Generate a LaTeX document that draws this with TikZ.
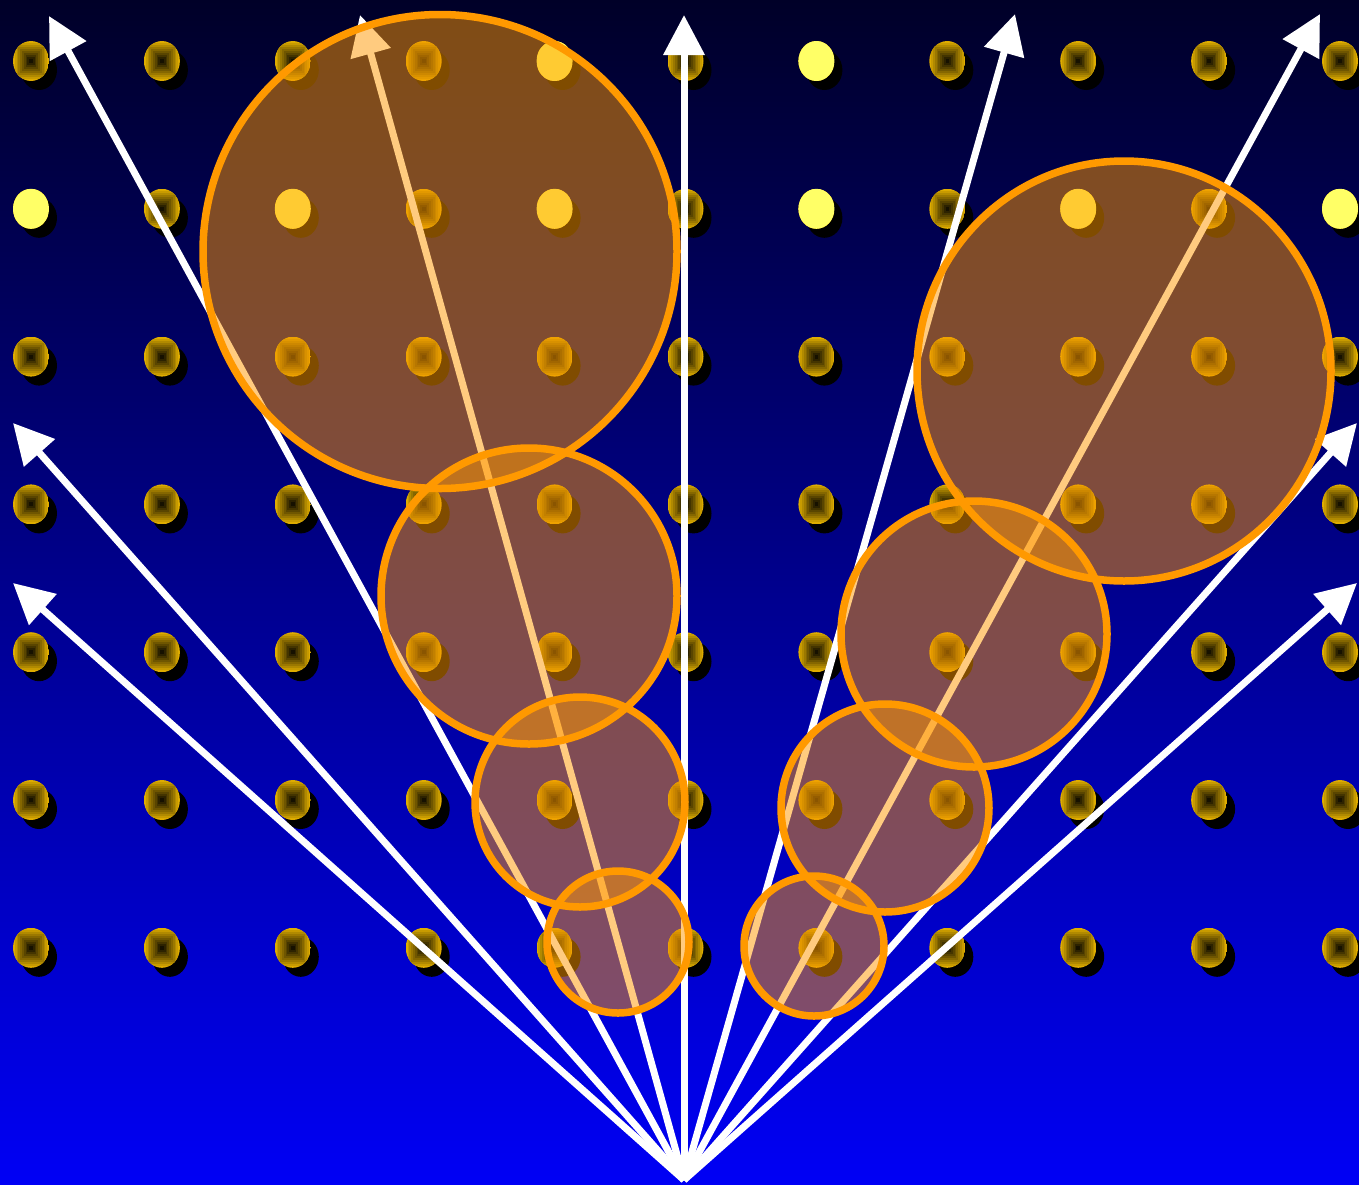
\documentclass[tikz,border=0pt]{standalone}
\usetikzlibrary{arrows.meta}
\definecolor{bgtop}{RGB}{0,0,40}
\definecolor{bgbot}{RGB}{0,0,245}
\definecolor{gold}{RGB}{222,172,0}
\definecolor{litdot}{RGB}{255,255,102}
\definecolor{orng}{RGB}{255,153,0}
\tikzset{
  ray/.style={draw=white, line width=7pt, -{Triangle[length=40pt,width=40pt]}},
  spot/.style={draw=orng, line width=7.5pt, fill=orng, fill opacity=0.5},
  dotshadow/.style={fill=black},
  litstyle/.style={fill=litdot}
}
\begin{document}
\begin{tikzpicture}[x=1pt,y=-1pt]
% background
\shade[top color=bgtop, bottom color=bgbot] (0,0) rectangle (1359,1184);
\useasboundingbox (0,0) rectangle (1359,1184);
% dots
\foreach \i in {0,...,10}{
  \foreach \j in {0,...,6}{
    \pgfmathsetmacro\xx{31+130.9*\i}
    \pgfmathsetmacro\yy{61+147.8*\j}
    \fill[dotshadow] (\xx+8,\yy+9) ellipse[x radius=18,y radius=20];
    \begin{scope}
      \clip (\xx,\yy) ellipse[x radius=18,y radius=20];
      \foreach \k in {0,...,9}{
        \pgfmathtruncatemacro\pc{100-10*\k}
        \pgfmathsetmacro\hw{18*(1-\k/10)}
        \pgfmathsetmacro\hh{20*(1-\k/10)}
        \fill[gold!\pc!black] (\xx-\hw,\yy-\hh) rectangle (\xx+\hw,\yy+\hh);
      }
    \end{scope}
  }
}
% lit dots
\foreach \i/\j in {0/1,2/1,4/0,4/1,6/0,6/1,8/1,10/1}{
  \pgfmathsetmacro\xx{31+130.9*\i}
  \pgfmathsetmacro\yy{61+147.8*\j}
  \fill[litstyle] (\xx,\yy) ellipse[x radius=18,y radius=20];
}
% rays
\coordinate (o) at (684,1180);
\coordinate (t1) at (49,16);
\coordinate (t2) at (360,15);
\coordinate (t3) at (684,15);
\coordinate (t4) at (1015,14);
\coordinate (t5) at (1320,14);
\coordinate (t6) at (13,423);
\coordinate (t7) at (13,583);
\coordinate (t8) at (1357,423);
\coordinate (t9) at (1357,583);
\foreach \t in {t1,t2,t3,t4,t5,t6,t7,t8,t9}{
  \draw[ray] (o) -- (\t);
}
% translucent circles
\draw[spot] (440,251.5) circle[radius=237];
\draw[spot] (529,596) circle[radius=148];
\draw[spot] (580,802) circle[radius=105];
\draw[spot] (618,942) circle[radius=71];
\draw[spot] (1124,371) ellipse[x radius=207,y radius=210];
\draw[spot] (974,634) circle[radius=133];
\draw[spot] (885,808) circle[radius=104];
\draw[spot] (814,946) circle[radius=70];
\end{tikzpicture}
\end{document}
